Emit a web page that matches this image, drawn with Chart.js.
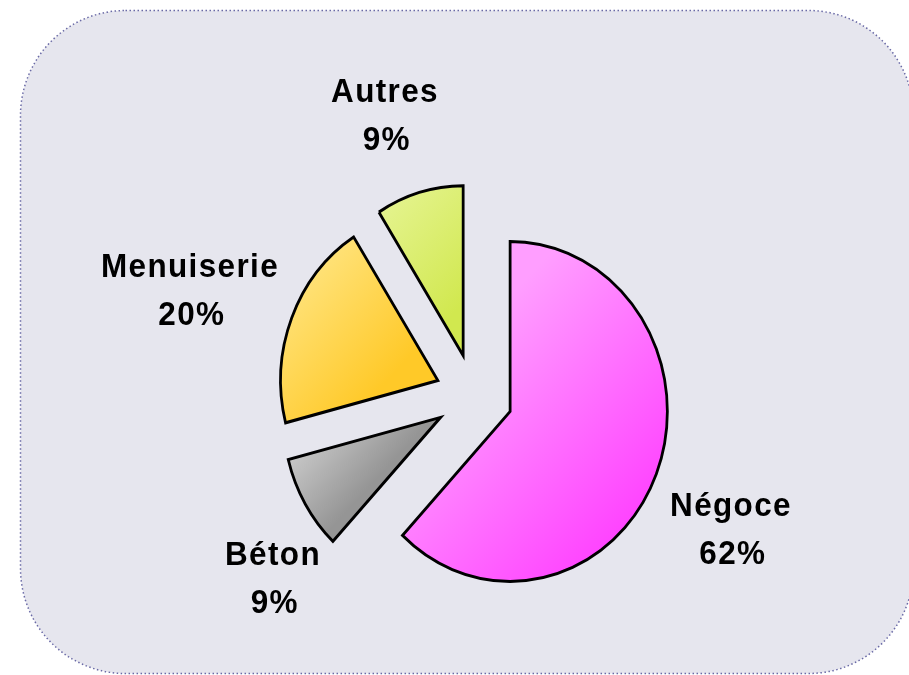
<!DOCTYPE html>
<html lang="fr">
<head>
<meta charset="utf-8">
<title>Répartition du chiffre d'affaires</title>
<script src="https://cdn.jsdelivr.net/npm/chart.js@4.4.1/dist/chart.umd.min.js"></script>
<style>
  html, body { margin: 0; padding: 0; background: #ffffff; }
  #wrap { position: relative; width: 909px; height: 675px; }
</style>
</head>
<body>
<div id="wrap"><canvas id="pie"></canvas></div>
<script>
const categories = ["Négoce", "Béton", "Menuiserie", "Autres"];
const shares = [62, 9, 20, 9];

const lightColors = ["#ff9eff", "#cecece", "#ffe88c", "#e9f69e"];
const darkColors = ["#ff36ff", "#959595", "#ffc928", "#d1e84f"];

const RADIUS = 170;
const EXPLODE = 42;     // distance each slice is pulled out
const SQUASH = 0.925;   // the original pie is slightly narrower than tall
// label anchor relative to the pie centre: [dx, baseline of first line]
const labelOffsets = [[257, 120], [-201, 169], [-284, -119], [-89, -294]];

const total = shares.reduce((a, b) => a + b, 0);

function sliceAngles(i) {
    let before = 0;
    for (let k = 0; k < i; k++) before += shares[k];
    const a0 = before / total * 2 * Math.PI - Math.PI / 2;
    const a1 = (before + shares[i]) / total * 2 * Math.PI - Math.PI / 2;
    return [a0, a1];
}

// light top-left -> dark bottom-right gradient over each slice
function sliceFill(c) {
    const area = c.chart.chartArea;
    const i = c.dataIndex;
    if (!area) return lightColors[i];
    const cx = (area.left + area.right) / 2;
    const cy = (area.top + area.bottom) / 2;
    const [a0, a1] = sliceAngles(i);
    const mid = (a0 + a1) / 2;
    const ox = cx + Math.cos(mid) * EXPLODE;
    const oy = cy + Math.sin(mid) * EXPLODE;
    let lo = ox + oy, hi = ox + oy;
    for (let s = 0; s <= 24; s++) {
        const a = a0 + (a1 - a0) * s / 24;
        const p = ox + Math.cos(a) * RADIUS + oy + Math.sin(a) * RADIUS;
        lo = Math.min(lo, p);
        hi = Math.max(hi, p);
    }
    const g = c.chart.ctx.createLinearGradient(lo / 2, lo / 2, hi / 2, hi / 2);
    g.addColorStop(0, lightColors[i]);
    g.addColorStop(1, darkColors[i]);
    return g;
}

const panel = {
    id: "panel",
    beforeDraw(chart) {
        const ctx = chart.ctx;
        ctx.save();
        ctx.beginPath();
        ctx.roundRect(20.5, 10.5, 893, 663, 105);
        ctx.fillStyle = "#e6e6ee";
        ctx.fill();
        ctx.setLineDash([1.5, 2.5]);
        ctx.lineWidth = 1.5;
        ctx.strokeStyle = "#6a6aa6";
        ctx.stroke();
        ctx.restore();
    },
    beforeDatasetsDraw(chart) {
        // chart.js grows and narrows exploded slices a bit,
        // undo that so every slice keeps the same radius and edges
        const meta = chart.getDatasetMeta(0);
        const r = meta.controller.outerRadius;
        meta.data.forEach((arc, i) => {
            const grow = EXPLODE * (1 - Math.sin(Math.min(Math.PI, arc.circumference)));
            const widen = grow / (2 * Math.PI * r);
            const [a0, a1] = sliceAngles(i);
            arc.outerRadius = r - grow;
            arc.startAngle = a0 - widen;
            arc.endAngle = a1 + widen;
        });
        const a = chart.chartArea;
        const cx = (a.left + a.right) / 2;
        const ctx = chart.ctx;
        ctx.save();
        ctx.translate(cx, 0);
        ctx.scale(SQUASH, 1);
        ctx.translate(-cx, 0);
    },
    afterDatasetsDraw(chart) {
        const ctx = chart.ctx;
        ctx.restore();
        const a = chart.chartArea;
        const cx = (a.left + a.right) / 2;
        const cy = (a.top + a.bottom) / 2;
        ctx.save();
        ctx.fillStyle = "#000000";
        ctx.font = "bold 34px 'Liberation Sans', Arial, sans-serif";
        ctx.textAlign = "center";
        ctx.textBaseline = "alphabetic";
        ctx.letterSpacing = "1.5px";
        categories.forEach((name, i) => {
            const [dx, dy] = labelOffsets[i];
            ctx.save();
            ctx.translate(cx + dx, cy + dy);
            ctx.scale(SQUASH, 1);
            ctx.fillText(name, 0, 0);
            ctx.fillText(Math.round(shares[i] / total * 100) + "%", 2, 48);
            ctx.restore();
        });
        ctx.restore();
    }
};

new Chart(document.getElementById("pie"), {
    type: "pie",
    data: {
        labels: categories,
        datasets: [{
            data: shares,
            backgroundColor: sliceFill,
            borderColor: "#000000",
            borderWidth: 3,
            borderJoinStyle: "miter",
            offset: EXPLODE * 4,
            radius: RADIUS
        }]
    },
    options: {
        responsive: true,
        maintainAspectRatio: false,
        animation: false,
        events: [],
        layout: { padding: { left: 39, right: 0, top: 117, bottom: 0 } },
        plugins: {
            legend: { display: false },
            tooltip: { enabled: false }
        }
    },
    plugins: [panel]
});
</script>
</body>
</html>
